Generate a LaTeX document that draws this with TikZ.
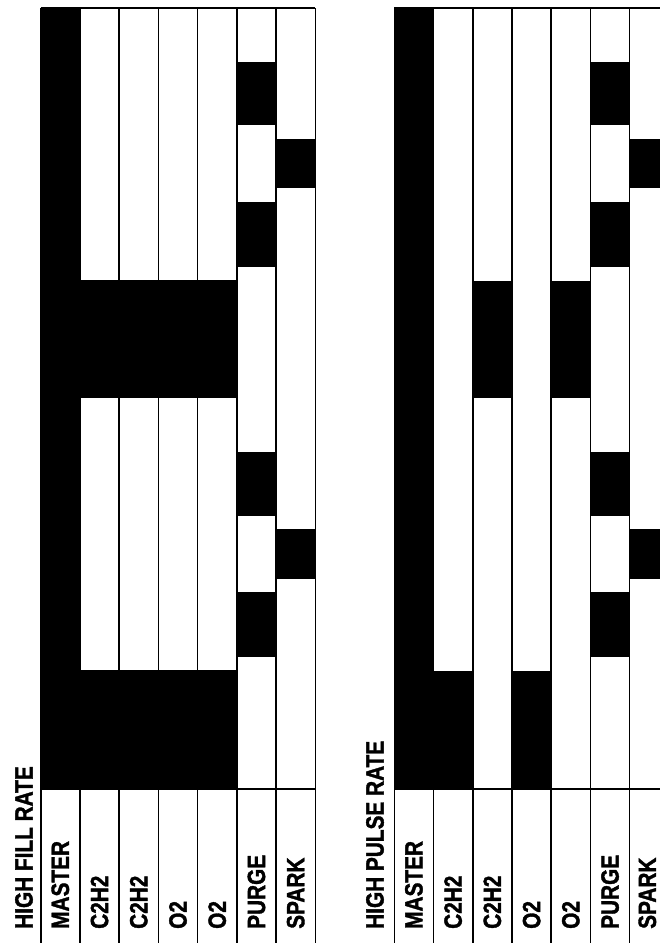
\documentclass[tikz,border=0pt]{standalone}
\usepackage{graphicx}
\usepackage{fontspec}
\setmainfont{Liberation Sans}
\newfontfamily\lblfont[FakeBold=1.6]{Liberation Sans Bold}
\newcommand{\cw}{39.23}
\newcommand{\sigbar}[3]{\fill[hi] ({(#1)*\cw},#2) rectangle ({(#1+1)*\cw},#3);}
\newcommand{\tallt}[1]{\scalebox{1}[1.2]{#1}}
\begin{document}
\begin{tikzpicture}[x=1pt,y=-1pt,
  grid/.style={line width=1.6pt,black},
  topline/.style={line width=2pt,black},
  hi/.style={fill=black,draw=none},
  lbl/.style={rotate=90,anchor=west,inner sep=0pt,font=\lblfont\fontsize{20.8}{24}\selectfont}]
\useasboundingbox (0,0) rectangle (660,943);
\clip (0,0) rectangle (660,943);
\fill[white] (0,0) rectangle (660,943);

% ---------------- HIGH FILL RATE ----------------
\node[lbl] (titleA) at (24,929) {\tallt{HIGH FILL RATE}};
\begin{scope}[xshift=40.7pt]
  \foreach \k in {0,...,7} \draw[grid] ({\k*\cw},8) -- ({\k*\cw},950);
  \draw[topline] (0,8) -- ({7*\cw},8);
  \draw[grid] (0,789) -- ({7*\cw},789);
  % MASTER
  \sigbar{0}{8}{789}
  % C2H2, C2H2, O2, O2
  \foreach \c in {1,2,3,4} {\sigbar{\c}{280}{398}\sigbar{\c}{670}{789}}
  % PURGE
  \sigbar{5}{62}{125.3}\sigbar{5}{201.7}{266.7}\sigbar{5}{451.7}{516}\sigbar{5}{592.3}{656.7}
  % SPARK
  \sigbar{6}{139.3}{188.3}\sigbar{6}{529.3}{578.7}
  \node[lbl] (a1) at ({0.5*\cw},929) {\tallt{MASTER}};
  \node[lbl] (a2) at ({1.5*\cw},929) {\tallt{C2H2}};
  \node[lbl] (a3) at ({2.5*\cw},929) {\tallt{C2H2}};
  \node[lbl] (a4) at ({3.5*\cw},929) {\tallt{O2}};
  \node[lbl] (a5) at ({4.5*\cw},929) {\tallt{O2}};
  \node[lbl] (a6) at ({5.5*\cw},929) {\tallt{PURGE}};
  \node[lbl] (a7) at ({6.5*\cw},929) {\tallt{SPARK}};
\end{scope}

% ---------------- HIGH PULSE RATE ----------------
\node[lbl] (titleB) at (375,929) {\tallt{HIGH PULSE RATE}};
\begin{scope}[xshift=394.3pt]
  \foreach \k in {0,...,7} \draw[grid] ({\k*\cw},8) -- ({\k*\cw},950);
  \draw[topline] (0,8) -- ({7*\cw},8);
  \draw[grid] (0,789) -- ({7*\cw},789);
  % MASTER
  \sigbar{0}{8}{789}
  % C2H2 / O2 alternating
  \sigbar{1}{671}{789}
  \sigbar{2}{281}{398}
  \sigbar{3}{671}{789}
  \sigbar{4}{281}{398}
  % PURGE
  \sigbar{5}{62}{125.3}\sigbar{5}{201.7}{266.7}\sigbar{5}{451.7}{516}\sigbar{5}{592.3}{656.7}
  % SPARK
  \sigbar{6}{139.3}{188.3}\sigbar{6}{529.3}{578.7}
  \node[lbl] (b1) at ({0.5*\cw},929) {\tallt{MASTER}};
  \node[lbl] (b2) at ({1.5*\cw},929) {\tallt{C2H2}};
  \node[lbl] (b3) at ({2.5*\cw},929) {\tallt{C2H2}};
  \node[lbl] (b4) at ({3.5*\cw},929) {\tallt{O2}};
  \node[lbl] (b5) at ({4.5*\cw},929) {\tallt{O2}};
  \node[lbl] (b6) at ({5.5*\cw},929) {\tallt{PURGE}};
  \node[lbl] (b7) at ({6.45*\cw},929) {\tallt{SPARK}};
\end{scope}
\end{tikzpicture}
\end{document}
